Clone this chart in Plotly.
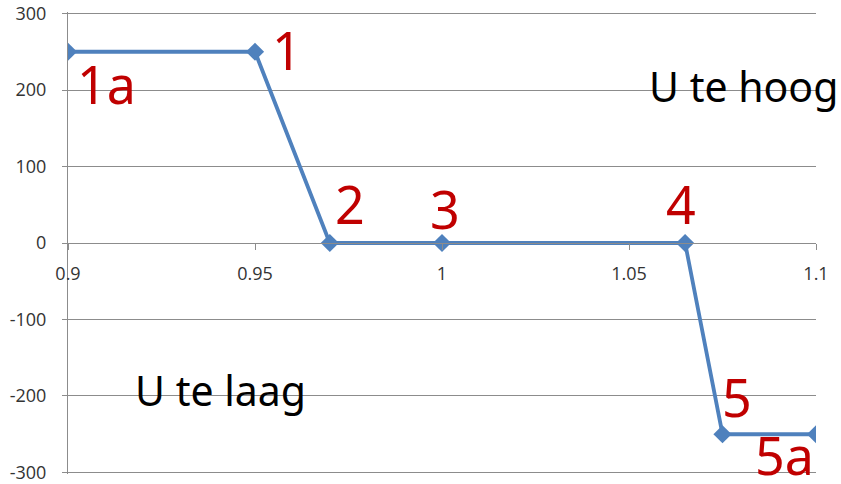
"""Reactive power vs voltage characteristic (Q(U) curve)."""

import plotly.graph_objects as go

# data
u_values = [0.9, 0.95, 0.97, 1.0, 1.065, 1.075, 1.1]
q_values = [250, 250, 0, 0, 0, -250, -250]

x_ticks = [0.9, 0.95, 1.0, 1.05, 1.1]
x_tick_labels = ["0.9", "0.95", "1", "1.05", "1.1"]
y_ticks = [-300, -200, -100, 0, 100, 200, 300]
y_tick_labels = ["-300", "-200", "-100", "0", "100", "200", "300"]

point_labels = ["1a", "1", "2", "3", "4", "5", "5a"]
label_x = [0.9104, 0.9586, 0.9754, 1.0008, 1.0639, 1.0789, 1.0917]
label_y = [204, 249, 48, 41, 48, -204, -281]

region_labels = ["U te hoog", "U te laag"]
region_x = [1.0807, 0.9409]
region_y = [203, -195]

GRID = "#8c8c8c"
BLUE = "#4f81bd"
RED = "#c00000"

fig = go.Figure(
    go.Scatter(
        x=u_values,
        y=q_values,
        mode="lines+markers",
        line=dict(color=BLUE, width=3.8),
        marker=dict(symbol="diamond", size=14, color=BLUE),
        hoverinfo="x+y",
    )
)

for text, x, y in zip(point_labels, label_x, label_y):
    fig.add_annotation(
        x=x, y=y, text=text, showarrow=False,
        font=dict(family="Noto Sans", size=52, color=RED),
        xanchor="center", yanchor="middle", yshift=3,
    )

for text, x, y in zip(region_labels, region_x, region_y):
    fig.add_annotation(
        x=x, y=y, text=text, showarrow=False,
        font=dict(family="Noto Sans", size=41, color="black"),
        xanchor="center", yanchor="middle", yshift=2,
    )

fig.update_layout(
    width=841,
    height=484,
    margin=dict(l=68, r=25, t=12, b=10),
    plot_bgcolor="white",
    paper_bgcolor="white",
    showlegend=False,
    font=dict(family="Open Sans", size=18, color="#333333"),
    xaxis=dict(
        range=[0.9, 1.1],
        tickvals=x_ticks,
        ticktext=x_tick_labels,
        showgrid=False,
        zeroline=False,
        showline=True,
        linecolor=GRID,
        linewidth=1,
        ticks="outside",
        ticklen=6,
        tickcolor=GRID,
        anchor="free",
        position=0.5,
        automargin=False,
        ticklabelstandoff=8,
        ticklabeloverflow="allow",
    ),
    yaxis=dict(
        # a hair wider than +-300 so the end gridlines are not clipped
        range=[-302, 302],
        tickvals=y_ticks,
        ticktext=y_tick_labels,
        showgrid=True,
        gridcolor=GRID,
        gridwidth=1,
        zeroline=False,
        showline=True,
        linecolor=GRID,
        linewidth=1,
        ticks="outside",
        ticklen=5,
        tickcolor=GRID,
        automargin=False,
        ticklabelstandoff=12,
        ticklabeloverflow="allow",
    ),
)

# drop the default 8px body margin so the figure sits at the page corner
fig.write_html(
    "out.html",
    config={"displayModeBar": False},
    post_script="document.body.style.margin = '0';",
)
